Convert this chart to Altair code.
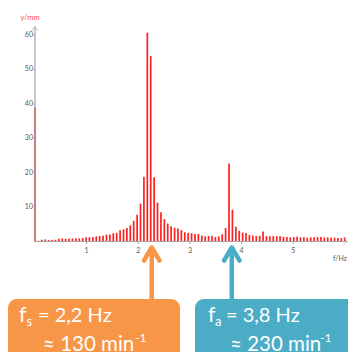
import altair as alt
import pandas as pd

# ---------------- data ----------------
FREQ_STEP = 0.0659  # Hz between spectral lines
amplitudes = [
    39.0, 0.2, 0.5, 0.6, 0.4, 0.5, 0.5, 0.8, 0.9, 0.8,
    0.9, 0.9, 0.9, 0.9, 1.0, 1.2, 1.2, 1.3, 1.5, 1.6,
    1.7, 2.0, 2.0, 2.4, 2.5, 3.3, 3.5, 3.9, 4.7, 6.0,
    7.8, 11.0, 18.8, 60.7, 53.9, 18.7, 11.3, 8.5, 6.5, 5.2,
    4.4, 4.0, 3.8, 3.3, 2.7, 2.5, 2.4, 2.2, 2.2, 1.7,
    1.5, 1.6, 1.6, 1.3, 1.5, 2.1, 3.9, 22.7, 9.2, 4.3,
    3.1, 2.6, 2.5, 1.9, 1.7, 1.55, 1.65, 2.9, 1.55, 1.55,
    1.55, 1.55, 1.5, 1.35, 1.3, 1.2, 1.3, 1.35, 1.2, 1.2,
    1.1, 1.2, 1.2, 1.3, 1.3, 1.2, 1.2, 1.1, 1.1, 1.0,
    1.0, 1.2,
]
freqs = [round(i * FREQ_STEP, 4) for i in range(len(amplitudes))]

y_tick_values = [10, 20, 30, 40, 50, 60]
x_tick_values = [1, 2, 3, 4, 5]
x_axis_end = 6.04
y_axis_end = 62.5

marked_freqs = [2.26, 3.81]
marked_colors = ["#f79646", "#4bacc6"]
box_line1_sub = ["s", "a"]
box_line1_rest = ["= 2,2 Hz", "= 3,8 Hz"]
box_line2 = ["≈ 130 min", "≈ 230 min"]

# ---------------- scales ----------------
W, H = 348, 352
xs = alt.Scale(domain=[-0.6776, 6.0600], nice=False, zero=False)
ys = alt.Scale(domain=[-32.12, 70.20], nice=False, zero=False)
FONT = "Lato"
AXIS_GRAY = "#a6a6a6"
LABEL_GRAY = "#595959"

spec = pd.DataFrame({"f": freqs, "a": amplitudes})
base = alt.Chart(spec)

bars = base.mark_rule(color="#ff1f1f", strokeWidth=1.7).encode(
    x=alt.X("f:Q", scale=xs, axis=None),
    y=alt.Y("a:Q", scale=ys, axis=None),
    y2=alt.datum(0),
)

# axes drawn by hand (so the plot area can hold the annotation boxes too)
x_axis = alt.Chart().mark_rule(color=AXIS_GRAY, strokeWidth=1).encode(
    x=alt.datum(0, scale=xs), x2=alt.datum(x_axis_end), y=alt.datum(0, scale=ys)
)
y_axis = alt.Chart().mark_rule(color=AXIS_GRAY, strokeWidth=1.2).encode(
    x=alt.datum(0, scale=xs), y=alt.datum(0, scale=ys), y2=alt.datum(y_axis_end)
)
x_arrow = alt.Chart().mark_point(
    shape="M-1,-1L0,0L-1,1", size=49, filled=False, color=AXIS_GRAY, strokeWidth=1
).encode(x=alt.datum(x_axis_end, scale=xs), y=alt.datum(0, scale=ys))
y_arrow = alt.Chart().mark_point(
    shape="M-1,1.4L0,0L1,1.4", size=36, filled=False, color=AXIS_GRAY, strokeWidth=1
).encode(x=alt.datum(0, scale=xs), y=alt.datum(y_axis_end, scale=ys))

yt = pd.DataFrame({"v": y_tick_values, "lab": [str(v) for v in y_tick_values]})
y_tick_marks = alt.Chart(yt).mark_rule(color=AXIS_GRAY, strokeWidth=1).encode(
    y=alt.Y("v:Q", scale=ys), x=alt.value(33), x2=alt.value(35)
)
y_tick_labels = alt.Chart(yt).mark_text(
    align="right", baseline="middle", fontSize=7, font=FONT, color=LABEL_GRAY, dx=-2
).encode(y=alt.Y("v:Q", scale=ys), x=alt.datum(0, scale=xs), text="lab:N")

xt = pd.DataFrame({"v": x_tick_values, "lab": [str(v) for v in x_tick_values]})
x_tick_marks = alt.Chart(xt).mark_rule(color=AXIS_GRAY, strokeWidth=1).encode(
    x=alt.X("v:Q", scale=xs), y=alt.value(241.5), y2=alt.value(244)
)
x_tick_labels = alt.Chart(xt).mark_text(
    align="center", baseline="middle", fontSize=7, font=FONT, color=LABEL_GRAY, dy=9
).encode(x=alt.X("v:Q", scale=xs), y=alt.datum(0, scale=ys), text="lab:N")

y_title = alt.Chart().mark_text(
    align="center", baseline="alphabetic", fontSize=7.5, font=FONT, color="#ff4d4d"
).encode(x=alt.value(30), y=alt.value(20), text=alt.value("y/mm"))
x_title = alt.Chart().mark_text(
    align="center", baseline="alphabetic", fontSize=7, font=FONT, color=LABEL_GRAY
).encode(x=alt.value(340), y=alt.value(261), text=alt.value("f/Hz"))

# ---------------- annotation arrows and boxes ----------------
layers = [bars, x_axis, y_axis, x_arrow, y_arrow, y_tick_marks, y_tick_labels,
          x_tick_marks, x_tick_labels, y_title, x_title]

box_left = [8, 195]
box_right = [180, 400]
text_left = [19, 208]
sub_left = [26.5, 215]
rest_left = [38, 226]
line2_left = [43, 230]
sup_left = [135, 320]
FS = 20

for i, f in enumerate(marked_freqs):
    c = marked_colors[i]
    layers.append(alt.Chart().mark_rect(color=c, cornerRadius=9).encode(
        x=alt.value(box_left[i]), x2=alt.value(box_right[i]),
        y=alt.value(299), y2=alt.value(400)))
    layers.append(alt.Chart().mark_rule(color=c, strokeWidth=4.5).encode(
        x=alt.datum(f, scale=xs), y=alt.value(249), y2=alt.value(300)))
    layers.append(alt.Chart().mark_point(
        shape="M-1,1.68L0,0L1,1.68", size=240, filled=False, color=c,
        strokeWidth=4.5, strokeJoin="round", strokeCap="round", opacity=1
    ).encode(x=alt.datum(f, scale=xs), y=alt.value(247.5)))
    txt = dict(align="left", baseline="alphabetic", font=FONT, color="white")
    layers.append(alt.Chart().mark_text(fontSize=FS + 1, **txt).encode(
        x=alt.value(text_left[i]), y=alt.value(322), text=alt.value("f")))
    layers.append(alt.Chart().mark_text(fontSize=13, **txt).encode(
        x=alt.value(sub_left[i]), y=alt.value(326), text=alt.value(box_line1_sub[i])))
    layers.append(alt.Chart().mark_text(fontSize=FS, **txt).encode(
        x=alt.value(rest_left[i]), y=alt.value(322), text=alt.value(box_line1_rest[i])))
    layers.append(alt.Chart().mark_text(fontSize=FS + 0.5, **txt).encode(
        x=alt.value(line2_left[i]), y=alt.value(351), text=alt.value(box_line2[i])))
    layers.append(alt.Chart().mark_text(fontSize=12, **txt).encode(
        x=alt.value(sup_left[i]), y=alt.value(342), text=alt.value("-1")))

chart = alt.layer(*layers).properties(
    width=W, height=H, padding=0, autosize=alt.AutoSizeParams(type="none"),
    background="white",
).configure_view(stroke=None)

chart.save("out.html", embed_options={"renderer": "svg", "actions": False})
